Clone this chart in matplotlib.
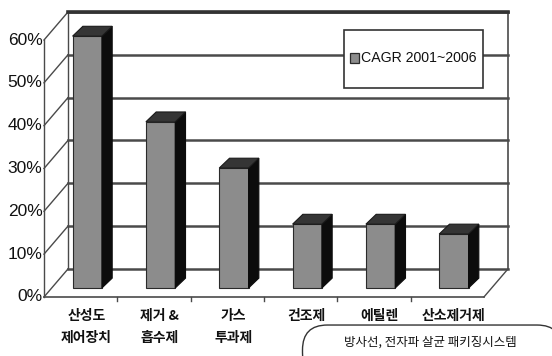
import matplotlib
matplotlib.use('Agg')
import matplotlib.pyplot as plt
from matplotlib.patches import Polygon, FancyBboxPatch, Rectangle
from matplotlib import font_manager

categories = ['산성도\n제어장치', '제거 &\n흡수제', '가스\n투과제', '건조제', '에틸렌', '산소제거제']
values = [58.8, 38.8, 28.0, 14.9, 14.9, 12.6]
yticks = [0, 10, 20, 30, 40, 50, 60]
legend_label = 'CAGR 2001~2006'
footnote = '방사선, 전자파 살균 패키징시스템'

names = {f.name for f in font_manager.fontManager.ttflist}
num_font = 'Liberation Sans Narrow' if 'Liberation Sans Narrow' in names else 'Liberation Sans'
kr_font = ['Noto Sans CJK KR', 'DejaVu Sans']

# 3D look: depth offset of the back wall, and of the bars
DX, DY = 0.327, 6.54
BX, BY = 0.09, 2.1      # bar front offset from the front plane
SX, SY = 0.14, 2.3      # bar depth
W = 0.40
GRID = '#4a4a4a'
BAR = '#8c8c8c'

fig = plt.figure(figsize=(5.52, 3.56), dpi=100)
ax = fig.add_axes([0, 0, 1, 1])
ax.set_xlim(-1.1, 6.428)
ax.set_ylim(-13.78, 69.34)
ax.axis('off')

n = len(categories)
x0, x1 = -0.5, n - 0.5
top = yticks[-1]

# back wall gridlines
for v in yticks:
    ax.plot([x0 + DX, x1 + DX], [v + DY, v + DY], color=GRID, lw=1.8, zorder=1)
    # left wall diagonals
    ax.plot([x0, x0 + DX], [v, v + DY], color=GRID, lw=1.0, zorder=1)
    ax.text(x0 - 0.02, v, f'{v}%', ha='right', va='center', fontsize=12.5,
            family=num_font, color='#111111')

# wall edges
ax.plot([x0, x0], [0, top], color=GRID, lw=1.0, zorder=1)
ax.plot([x0 + DX, x0 + DX], [DY, top + DY], color=GRID, lw=1.0, zorder=1)
ax.plot([x1 + DX, x1 + DX], [DY, top + DY], color=GRID, lw=1.2, zorder=1)
ax.plot([x0 + DX, x1 + DX], [top + DY, top + DY], color='#333333', lw=2.6, zorder=1)
# floor
ax.plot([x0, x1], [0, 0], color=GRID, lw=1.2, zorder=1)
ax.plot([x1, x1 + DX], [0, DY], color=GRID, lw=1.0, zorder=1)
for i in range(1, n):
    ax.plot([x0 + i, x0 + i], [0, -1.0], color=GRID, lw=1.0, zorder=1)

# bars
for i, v in enumerate(values):
    l = i + BX - W / 2
    r = i + BX + W / 2
    b = BY
    t = BY + v
    front = Polygon([(l, b), (r, b), (r, t), (l, t)], closed=True,
                    facecolor=BAR, edgecolor='#2a2a2a', lw=0.8, zorder=3)
    side = Polygon([(r, b), (r + SX, b + SY), (r + SX, t + SY), (r, t)], closed=True,
                   facecolor='#0c0c0c', edgecolor='#0c0c0c', lw=0.8, zorder=3)
    cap = Polygon([(l, t), (r, t), (r + SX, t + SY), (l + SX, t + SY)], closed=True,
                  facecolor='#353535', edgecolor='#1a1a1a', lw=0.8, zorder=3)
    for p in (front, side, cap):
        ax.add_patch(p)
    ax.text(i + 0.08, -2.8, categories[i], ha='center', va='top', fontsize=10,
            family=kr_font, fontweight='bold', color='#111111', linespacing=1.75)

# legend box
ax.add_patch(Rectangle((0.623, 0.753), 0.252, 0.163, transform=ax.transAxes,
                       facecolor='white', edgecolor='#333333', lw=1.2, zorder=4))
ax.add_patch(Rectangle((0.634, 0.824), 0.016, 0.027, transform=ax.transAxes,
                       facecolor=BAR, edgecolor='#2a2a2a', lw=0.9, zorder=5))
ax.text(0.654, 0.838, legend_label, transform=ax.transAxes, ha='left', va='center',
        fontsize=10.2, family=num_font, color='#111111', zorder=5)

# footnote rounded box
box = FancyBboxPatch((0.548, -0.06), 0.47, 0.147, transform=fig.transFigure,
                     boxstyle='round,pad=0,rounding_size=0.045', mutation_aspect=552 / 356,
                     facecolor='white', edgecolor='#333333', lw=1.0, clip_on=False)
fig.patches.append(box)
fig.text(0.78, 0.04, footnote, ha='center', va='center', fontsize=9, family=kr_font,
         fontweight='medium', color='#111111')

fig.savefig('out.png', dpi=100)
